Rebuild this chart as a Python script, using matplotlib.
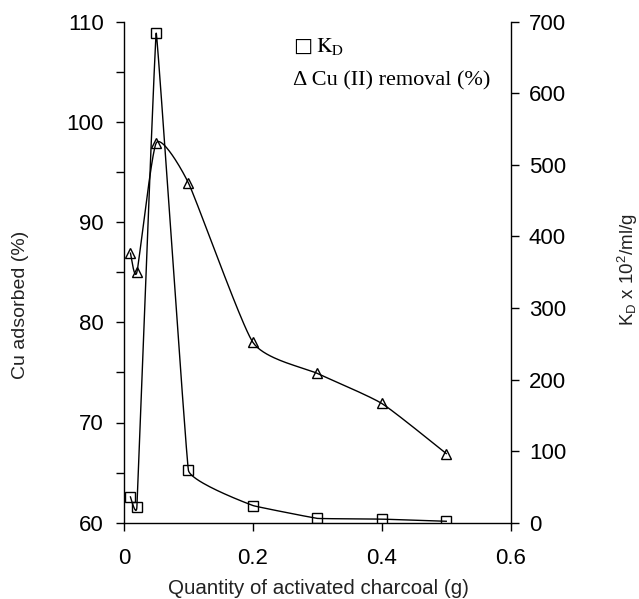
import numpy as np
import matplotlib
matplotlib.use("Agg")
import matplotlib.pyplot as plt
from matplotlib.ticker import MultipleLocator

plt.rcParams['font.family'] = ['Liberation Sans', 'DejaVu Sans']
plt.rcParams['mathtext.fontset'] = 'custom'
plt.rcParams['mathtext.rm'] = 'Liberation Sans'
plt.rcParams['mathtext.it'] = 'Liberation Sans:italic'

# ---- data ----
charcoal_g = [0.01, 0.02, 0.05, 0.1, 0.2, 0.3, 0.4, 0.5]
cu_removal_pct = [86.9, 85.0, 97.9, 93.9, 78.0, 74.9, 71.9, 66.9]
kd_values = [36, 22, 684, 73, 24, 6, 5, 2]
x_ticks = [0, 0.2, 0.4, 0.6]
x_tick_labels = ['0', '0.2', '0.4', '0.6']
left_ticks = [60, 70, 80, 90, 100, 110]
right_ticks = [0, 100, 200, 300, 400, 500, 600, 700]

W, H = 639, 599
fig = plt.figure(figsize=(W / 100, H / 100), dpi=100)
ax_l, ax_r_edge = 124 / W, 510.7 / W
ax_b, ax_t = 1 - 522.7 / H, 1 - 21.7 / H
ax = fig.add_axes([ax_l, ax_b, ax_r_edge - ax_l, ax_t - ax_b])
ax2 = ax.twinx()

XL = (0, 0.6)
YL = (60, 110)
YR = (0, 700)
pw = (ax_r_edge - ax_l) * W
ph = (ax_t - ax_b) * H


def smooth(xs, ys, xlim, ylim, k=0.5, n=40):
    # lightly smoothed curve (cardinal spline) computed in screen space
    X = (np.asarray(xs, float) - xlim[0]) / (xlim[1] - xlim[0]) * pw
    Y = (np.asarray(ys, float) - ylim[0]) / (ylim[1] - ylim[0]) * ph
    P = np.column_stack([X, Y])
    Pext = np.vstack([P[0], P, P[-1]])
    out = []
    for i in range(1, len(Pext) - 2):
        p0, p1, p2, p3 = Pext[i - 1], Pext[i], Pext[i + 1], Pext[i + 2]
        c1 = p1 + k * (p2 - p0) / 6.0
        c2 = p2 - k * (p3 - p1) / 6.0
        t = np.linspace(0, 1, n)[:, None]
        seg = ((1 - t) ** 3) * p1 + 3 * ((1 - t) ** 2) * t * c1 + 3 * (1 - t) * t ** 2 * c2 + t ** 3 * p2
        out.append(seg if i == 1 else seg[1:])
    C = np.vstack(out)
    cx = C[:, 0] / pw * (xlim[1] - xlim[0]) + xlim[0]
    cy = C[:, 1] / ph * (ylim[1] - ylim[0]) + ylim[0]
    return cx, cy


lw = 1.0
cx, cy = smooth(charcoal_g, cu_removal_pct, XL, YL, k=0.55)
ax.plot(cx, cy, color='black', lw=lw, zorder=2)
ax.plot(charcoal_g, cu_removal_pct, linestyle='none', marker='^', ms=7.5,
        mfc='none', mec='black', mew=1.0, zorder=3)

kx, ky = smooth(charcoal_g, kd_values, XL, YR, k=0.15)
ax2.plot(kx, ky, color='black', lw=lw, zorder=2)
ax2.plot(charcoal_g, kd_values, linestyle='none', marker='s', ms=6.5,
         mfc='none', mec='black', mew=1.0, zorder=3)

ax.set_xlim(*XL)
ax.set_ylim(*YL)
ax2.set_ylim(*YR)

for a in (ax, ax2):
    a.spines['top'].set_visible(False)
    for s in a.spines.values():
        s.set_linewidth(1.0)
ax2.spines['left'].set_visible(False)
ax2.spines['bottom'].set_visible(False)
ax.spines['right'].set_visible(False)

tick_fs = 16
ax.set_xticks(x_ticks)
ax.set_xticklabels(x_tick_labels)
ax.set_yticks(left_ticks)
ax.yaxis.set_minor_locator(MultipleLocator(5))
ax2.set_yticks(right_ticks)

ax.tick_params(axis='x', direction='out', length=5.5, width=1.0, pad=13, labelsize=tick_fs)
ax.tick_params(axis='y', which='both', direction='out', length=5.5, width=1.0, pad=9, labelsize=tick_fs)
ax2.tick_params(axis='y', direction='out', length=5.5, width=1.0, pad=7.5, labelsize=tick_fs)

# axis labels
fig.text(318 / W, 1 - 594 / H, 'Quantity of activated charcoal (g)', ha='center',
         va='baseline', fontsize=14.8, color='#222222')
fig.text(21 / W, 1 - 305 / H, 'Cu adsorbed (%)', rotation=90, ha='center', va='center',
         fontsize=14, color='#222222')
fig.text(628 / W, 1 - 270 / H, r'$\mathrm{K_D\ x\ 10^2/ml/g}$', rotation=90, ha='center',
         va='center', fontsize=13.5, color='#222222')

# legend-like annotation
fig.text(292.7 / W, 1 - 46 / H, '□', ha='left', va='center',
         fontsize=14.5, family=['DejaVu Sans'])
fig.text(316.5 / W, 1 - 52 / H, r'$\mathrm{K_D}$', ha='left', va='baseline',
         fontsize=15.5, math_fontfamily='stix')
fig.text(292.7 / W, 1 - 85 / H, 'Δ Cu (II) removal (%)', ha='left', va='baseline',
         fontsize=16, family=['Liberation Serif', 'DejaVu Serif'])

fig.savefig('out.png', dpi=100)
